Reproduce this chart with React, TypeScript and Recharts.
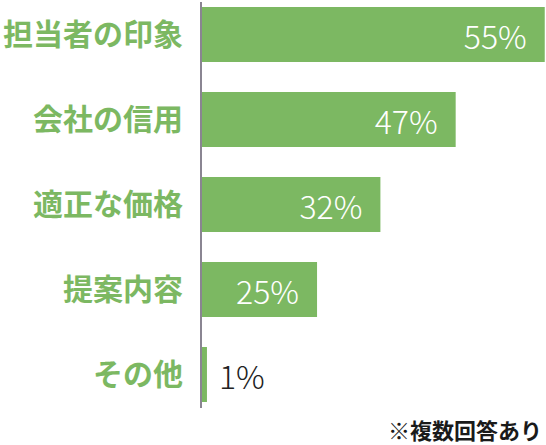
import { BarChart, Bar, XAxis, YAxis, LabelList } from 'recharts';

const categories = ['担当者の印象', '会社の信用', '適正な価格', '提案内容', 'その他'];
const percentLabels = ['55%', '47%', '32%', '25%', '1%'];
// bar lengths as drawn in the source (not strictly proportional to the printed percentages)
const barLengths = [54.8, 40.6, 28.6, 18.5, 0.95];
const note = '※複数回答あり';

const GREEN = '#7cb862';

const data = categories.map((name, i) => ({
  name,
  length: barLengths[i],
  label: percentLabels[i],
}));

function ValueLabel(props: any) {
  const { x, y, width, height, value } = props;
  const inside = width > 40;
  const cy = Number(y) + Number(height) / 2;
  return (
    <text
      x={inside ? Number(x) + Number(width) - 18 : Number(x) + Number(width) + 12}
      y={cy}
      textAnchor={inside ? 'end' : 'start'}
      dominantBaseline="central"
      fill={inside ? '#ffffff' : '#222222'}
      fontSize={32}
      fontWeight={300}
      fontFamily="'Noto Sans CJK JP', 'Noto Sans', sans-serif"
    >
      {value}
    </text>
  );
}

export default function App() {
  return (
    <div
      style={{
        position: 'absolute',
        left: 0,
        top: 0,
        width: 546,
        height: 445,
        background: '#ffffff',
        fontFamily: "'Noto Sans CJK JP', sans-serif",
      }}
    >
      <BarChart
        layout="vertical"
        width={546}
        height={445}
        data={data}
        margin={{ top: 2, right: 0, bottom: 37, left: 0 }}
      >
        <XAxis type="number" domain={[0, 55]} hide />
        <YAxis
          type="category"
          dataKey="name"
          width={201}
          padding={{ top: -10, bottom: -9 }}
          tickLine={false}
          tickSize={0}
          tickMargin={18}
          axisLine={{ stroke: '#8a8592', strokeWidth: 2 }}
          tick={{
            fill: GREEN,
            fontSize: 30,
            fontWeight: 700,
            fontFamily: "'Noto Sans CJK JP', sans-serif",
          }}
        />
        <Bar dataKey="length" fill={GREEN} barSize={55} isAnimationActive={false}>
          <LabelList dataKey="label" content={<ValueLabel />} />
        </Bar>
      </BarChart>
      <div
        style={{
          position: 'absolute',
          right: 4,
          top: 418,
          fontSize: 22,
          lineHeight: '22px',
          fontWeight: 700,
          color: '#1a1a1a',
          whiteSpace: 'nowrap',
        }}
      >
        {note}
      </div>
    </div>
  );
}
